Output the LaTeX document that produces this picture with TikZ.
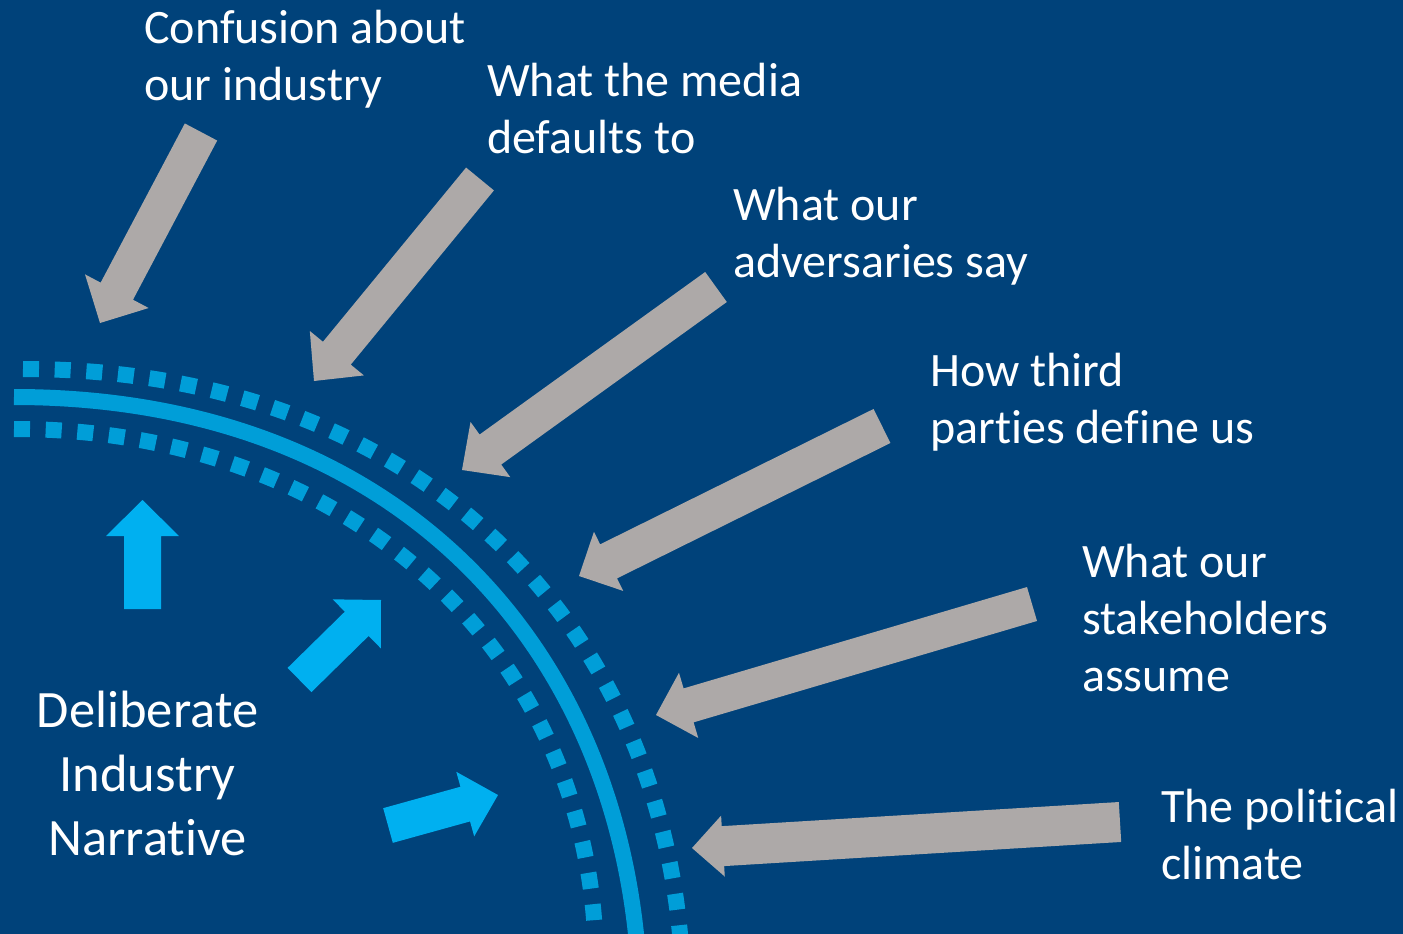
\documentclass[tikz,border=0pt]{standalone}
\usepackage{fontspec}
\setmainfont{Carlito}[Ligatures=NoCommon]
\usetikzlibrary{calc}
\definecolor{bg}{RGB}{0,66,122}
\definecolor{arcblue}{RGB}{0,158,216}
\definecolor{arrblue}{RGB}{0,176,240}
\definecolor{arrgray}{RGB}{173,169,168}
% #1 fill style, #2 tail, #3 tip, #4 half shaft, #5 half head, #6 head length
\newcommand{\blockarrow}[6]{%
  \path ($(#3)!#6!(#2)$) coordinate (ab);
  \fill[#1] ($(#2)!#4!90:(#3)$) -- ($(ab)!#4!90:(#3)$) -- ($(ab)!#5!90:(#3)$) -- (#3)
    -- ($(ab)!#5!-90:(#3)$) -- ($(ab)!#4!-90:(#3)$) -- ($(#2)!#4!-90:(#3)$) -- cycle;}
\begin{document}
\begin{tikzpicture}[x=1pt,y=-1pt,
  solidarc/.style={draw=arcblue, line width=16pt},
  dotarc/.style={draw=arcblue, line width=16pt, dash pattern=on 16pt off 15.7pt},
  grayarr/.style={fill=arrgray},
  bluearr/.style={fill=arrblue},
  lbl/.style={text=white, inner sep=0pt, anchor=north west, align=left,
    font=\fontsize{48}{57}\selectfont},
  biglbl/.style={text=white, inner sep=0pt, anchor=north, align=center,
    font=\fontsize{52.5}{64}\selectfont}]
\useasboundingbox (0,0) rectangle (1403,934);
\fill[bg] (0,0) rectangle (1403,934);
\begin{scope}
\clip (0,0) rectangle (1403,934);
\draw[solidarc] (14,397) .. controls (379,397) and (603,624) .. (636,934) -- (637,950);
\draw[dotarc] (23,369) .. controls (413,369) and (650,614) .. (680,934) -- (681,950);
\draw[dotarc] (14,429) .. controls (344,429) and (580,644) .. (595,934) -- (596,950);
\end{scope}

% labels
\node[lbl] (conf) at (144,3) {\rule{0pt}{40pt}Confusion about\\our industry};
\node[lbl] (media) at (487,56) {\rule{0pt}{40pt}What the media\\defaults to};
\node[lbl] (adv) at (733,180) {\rule{0pt}{40pt}What our\\adversaries say};
\node[lbl] (third) at (930,346) {\rule{0pt}{40pt}How third\\parties define us};
\node[lbl] (stake) at (1082,537) {\rule{0pt}{40pt}What our\\stakeholders\\assume};
\node[lbl] (pol) at (1161,782) {\rule{0pt}{40pt}The political\\climate};
\node[biglbl] (delib) at (147.5,685) {\rule{0pt}{42pt}Deliberate\\Industry\\Narrative};

% gray arrows
\coordinate (t1) at (201,132); \coordinate (p1) at (100,323);
\coordinate (t2) at (480,179); \coordinate (p2) at (314,381);
\coordinate (t3) at (716,287); \coordinate (p3) at (462,470);
\coordinate (t4) at (882,426); \coordinate (p4) at (579,576);
\coordinate (t5) at (1032,604); \coordinate (p5) at (656,715);
\coordinate (t6) at (1120,822); \coordinate (p6) at (692,848);
\blockarrow{grayarr}{t1}{p1}{18.3pt}{36pt}{36pt}
\blockarrow{grayarr}{t2}{p2}{18pt}{35pt}{36pt}
\blockarrow{grayarr}{t3}{p3}{18.5pt}{34pt}{35pt}
\blockarrow{grayarr}{t4}{p4}{19pt}{33pt}{33pt}
\blockarrow{grayarr}{t5}{p5}{17.7pt}{34pt}{34pt}
\blockarrow{grayarr}{t6}{p6}{20pt}{30.5pt}{31pt}

% blue arrows
\coordinate (b1t) at (142.5,609); \coordinate (b1p) at (142.5,500);
\coordinate (b2t) at (299.5,680); \coordinate (b2p) at (381,600);
\coordinate (b3t) at (388,825.5); \coordinate (b3p) at (498,795);
\blockarrow{bluearr}{b1t}{b1p}{18.5pt}{36.5pt}{36pt}
\blockarrow{bluearr}{b2t}{b2p}{17pt}{34.3pt}{34pt}
\blockarrow{bluearr}{b3t}{b3p}{18pt}{33.5pt}{34pt}
\end{tikzpicture}
\end{document}
